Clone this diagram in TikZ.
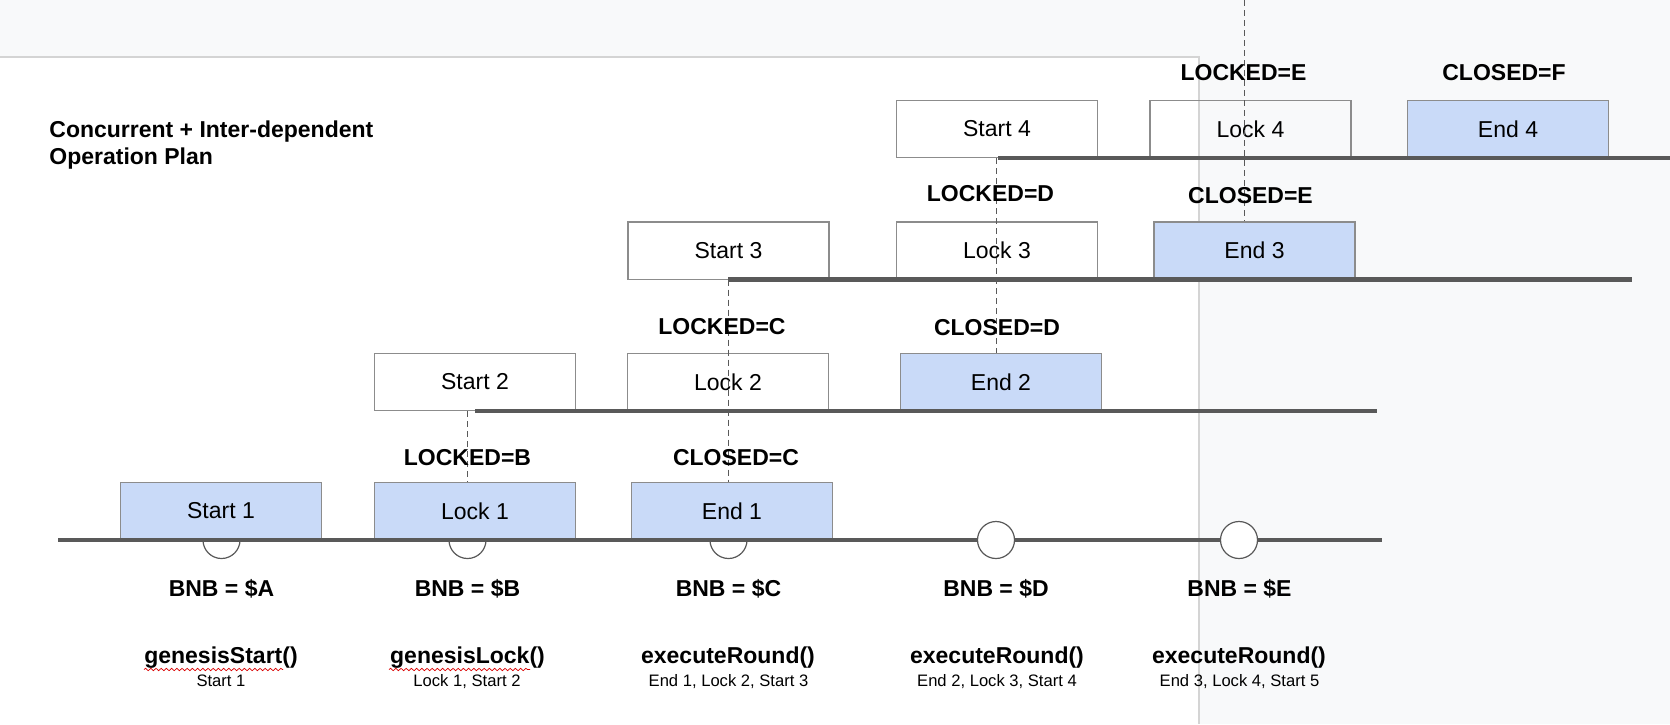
\documentclass[tikz,border=0pt]{standalone}
\usepackage{fontspec}
\setmainfont{Liberation Sans}
\usetikzlibrary{positioning,decorations.pathmorphing}
\definecolor{PageGrey}{RGB}{248,249,250}
\definecolor{PageEdge}{RGB}{212,212,212}
\definecolor{StepBlue}{RGB}{201,218,248}
\definecolor{EdgeGrey}{RGB}{140,140,140}
\definecolor{RailGrey}{RGB}{89,89,89}
\tikzset{
  phasebox/.style={draw=EdgeGrey,line width=0.7pt,inner sep=0pt,
    minimum width=100.5pt,minimum height=28.7pt,font=\fontsize{11.5}{13.8}\selectfont},
  donebox/.style={phasebox,fill=StepBlue},
  rail/.style={draw=RailGrey,line width=2.3pt},
  tick/.style={circle,draw=RailGrey,line width=0.6pt,fill=white,inner sep=0pt,
    minimum size=18.5pt},
  depline/.style={draw=RailGrey,line width=0.5pt,dash pattern=on 3pt off 2pt},
  tag/.style={font=\fontsize{11.5}{13.8}\selectfont\bfseries,inner sep=0pt,anchor=base},
  callname/.style={tag},
  calldesc/.style={font=\fontsize{8.3}{10}\selectfont,inner sep=0pt,anchor=base},
  typo/.style={draw=red!85!black,line width=0.35pt,decorate,
    decoration={snake,segment length=2.6pt,amplitude=0.6pt}}
}

\begin{document}
\begin{tikzpicture}[x=0.5pt,y=-0.5pt]
  \useasboundingbox (0,0) rectangle (1670,724);
  % canvas and page
  \fill[PageGrey] (0,0) rectangle (1670,724);
  \fill[white] (0,57) rectangle (1199,724);
  \draw[PageEdge,line width=1pt] (0,57) -- (1199,57) -- (1199,724);

  \node[font=\fontsize{11.5}{13.75}\selectfont\bfseries,align=left,anchor=north west,
    inner sep=0pt] (title) at (49,120) {Concurrent + Inter-dependent\\Operation Plan};

  % markers hidden under the boxes
  \node[tick] (tickA) at (221.5,540) {};
  \node[tick] (tickB) at (467.5,540) {};
  \node[tick] (tickC) at (728.5,540) {};

  % round 1
  \node[donebox] (start1) at (221,511) {Start 1};
  \node[donebox] (lock1) at (475,511) {Lock 1};
  \node[donebox] (end1) at (732,511) {End 1};
  % round 2
  \node[phasebox] (start2) at (475,382) {Start 2};
  \node[phasebox] (lock2) at (728,382) {Lock 2};
  \node[donebox] (end2) at (1001,382) {End 2};
  % round 3
  \node[phasebox] (start3) at (728.5,250.5) {Start 3};
  \node[phasebox] (lock3) at (997,250.5) {Lock 3};
  \node[donebox] (end3) at (1254.5,250.5) {End 3};
  % round 4
  \node[phasebox] (start4) at (997,129) {Start 4};
  \node[phasebox] (lock4) at (1250.5,129) {Lock 4};
  \node[donebox] (end4) at (1508,129) {End 4};

  % rails
  \coordinate (r1a) at (58,540);    \coordinate (r1b) at (1382,540);
  \coordinate (r2a) at (475,411);   \coordinate (r2b) at (1377,411);
  \coordinate (r3a) at (728,279.5); \coordinate (r3b) at (1632,279.5);
  \coordinate (r4a) at (998,158);   \coordinate (r4b) at (1670,158);
  \draw[rail] (r1a) -- (r1b);
  \draw[rail] (r2a) -- (r2b);
  \draw[rail] (r3a) -- (r3b);
  \draw[rail] (r4a) -- (r4b);

  \node[tick] (tickD) at (996,540) {};
  \node[tick] (tickE) at (1239,540) {};

  % dependencies
  \coordinate (topE) at (1244,0);
  \draw[depline] (tickB |- r2a) -- (tickB |- lock1.north);
  \draw[depline] (tickC |- r3a) -- (tickC |- end1.north);
  \draw[depline] (tickD |- r4a) -- (tickD |- end2.north);
  \draw[depline] (topE) -- (topE |- end3.north);

  \node[tag] (lockedB) at (467.5,465) {LOCKED=B};
  \node[tag] (closedC) at (736,465) {CLOSED=C};
  \node[tag] (lockedC) at (722,334) {LOCKED=C};
  \node[tag] (closedD) at (997,335) {CLOSED=D};
  \node[tag] (lockedD) at (990.5,201) {LOCKED=D};
  \node[tag] (closedE) at (1250.5,203) {CLOSED=E};
  \node[tag] (lockedE) at (1243.5,80) {LOCKED=E};
  \node[tag] (closedF) at (1504,80.5) {CLOSED=F};

  % price and calls per round
  \node[tag] (bnbA) at (221.5,596) {BNB = \$A};
  \node[tag] (bnbB) at (467.5,596) {BNB = \$B};
  \node[tag] (bnbC) at (728.5,596) {BNB = \$C};
  \node[tag] (bnbD) at (996,596) {BNB = \$D};
  \node[tag] (bnbE) at (1239.5,596) {BNB = \$E};

  \node[callname] (callA) at (221,663) {genesisStart()};
  \node[callname] (callB) at (467.5,663) {genesisLock()};
  \node[callname] (callC) at (728,663) {executeRound()};
  \node[callname] (callD) at (997,663) {executeRound()};
  \node[callname] (callE) at (1239,663) {executeRound()};
  \draw[typo] (144,669.5) -- (283,669.5);
  \draw[typo] (389,669.5) -- (530,669.5);

  \node[calldesc] (descA) at (221,686) {Start 1};
  \node[calldesc] (descB) at (467,686) {Lock 1, Start 2};
  \node[calldesc] (descC) at (728.5,686) {End 1, Lock 2, Start 3};
  \node[calldesc] (descD) at (997,686) {End 2, Lock 3, Start 4};
  \node[calldesc] (descE) at (1239.5,686) {End 3, Lock 4, Start 5};
\end{tikzpicture}
\end{document}
